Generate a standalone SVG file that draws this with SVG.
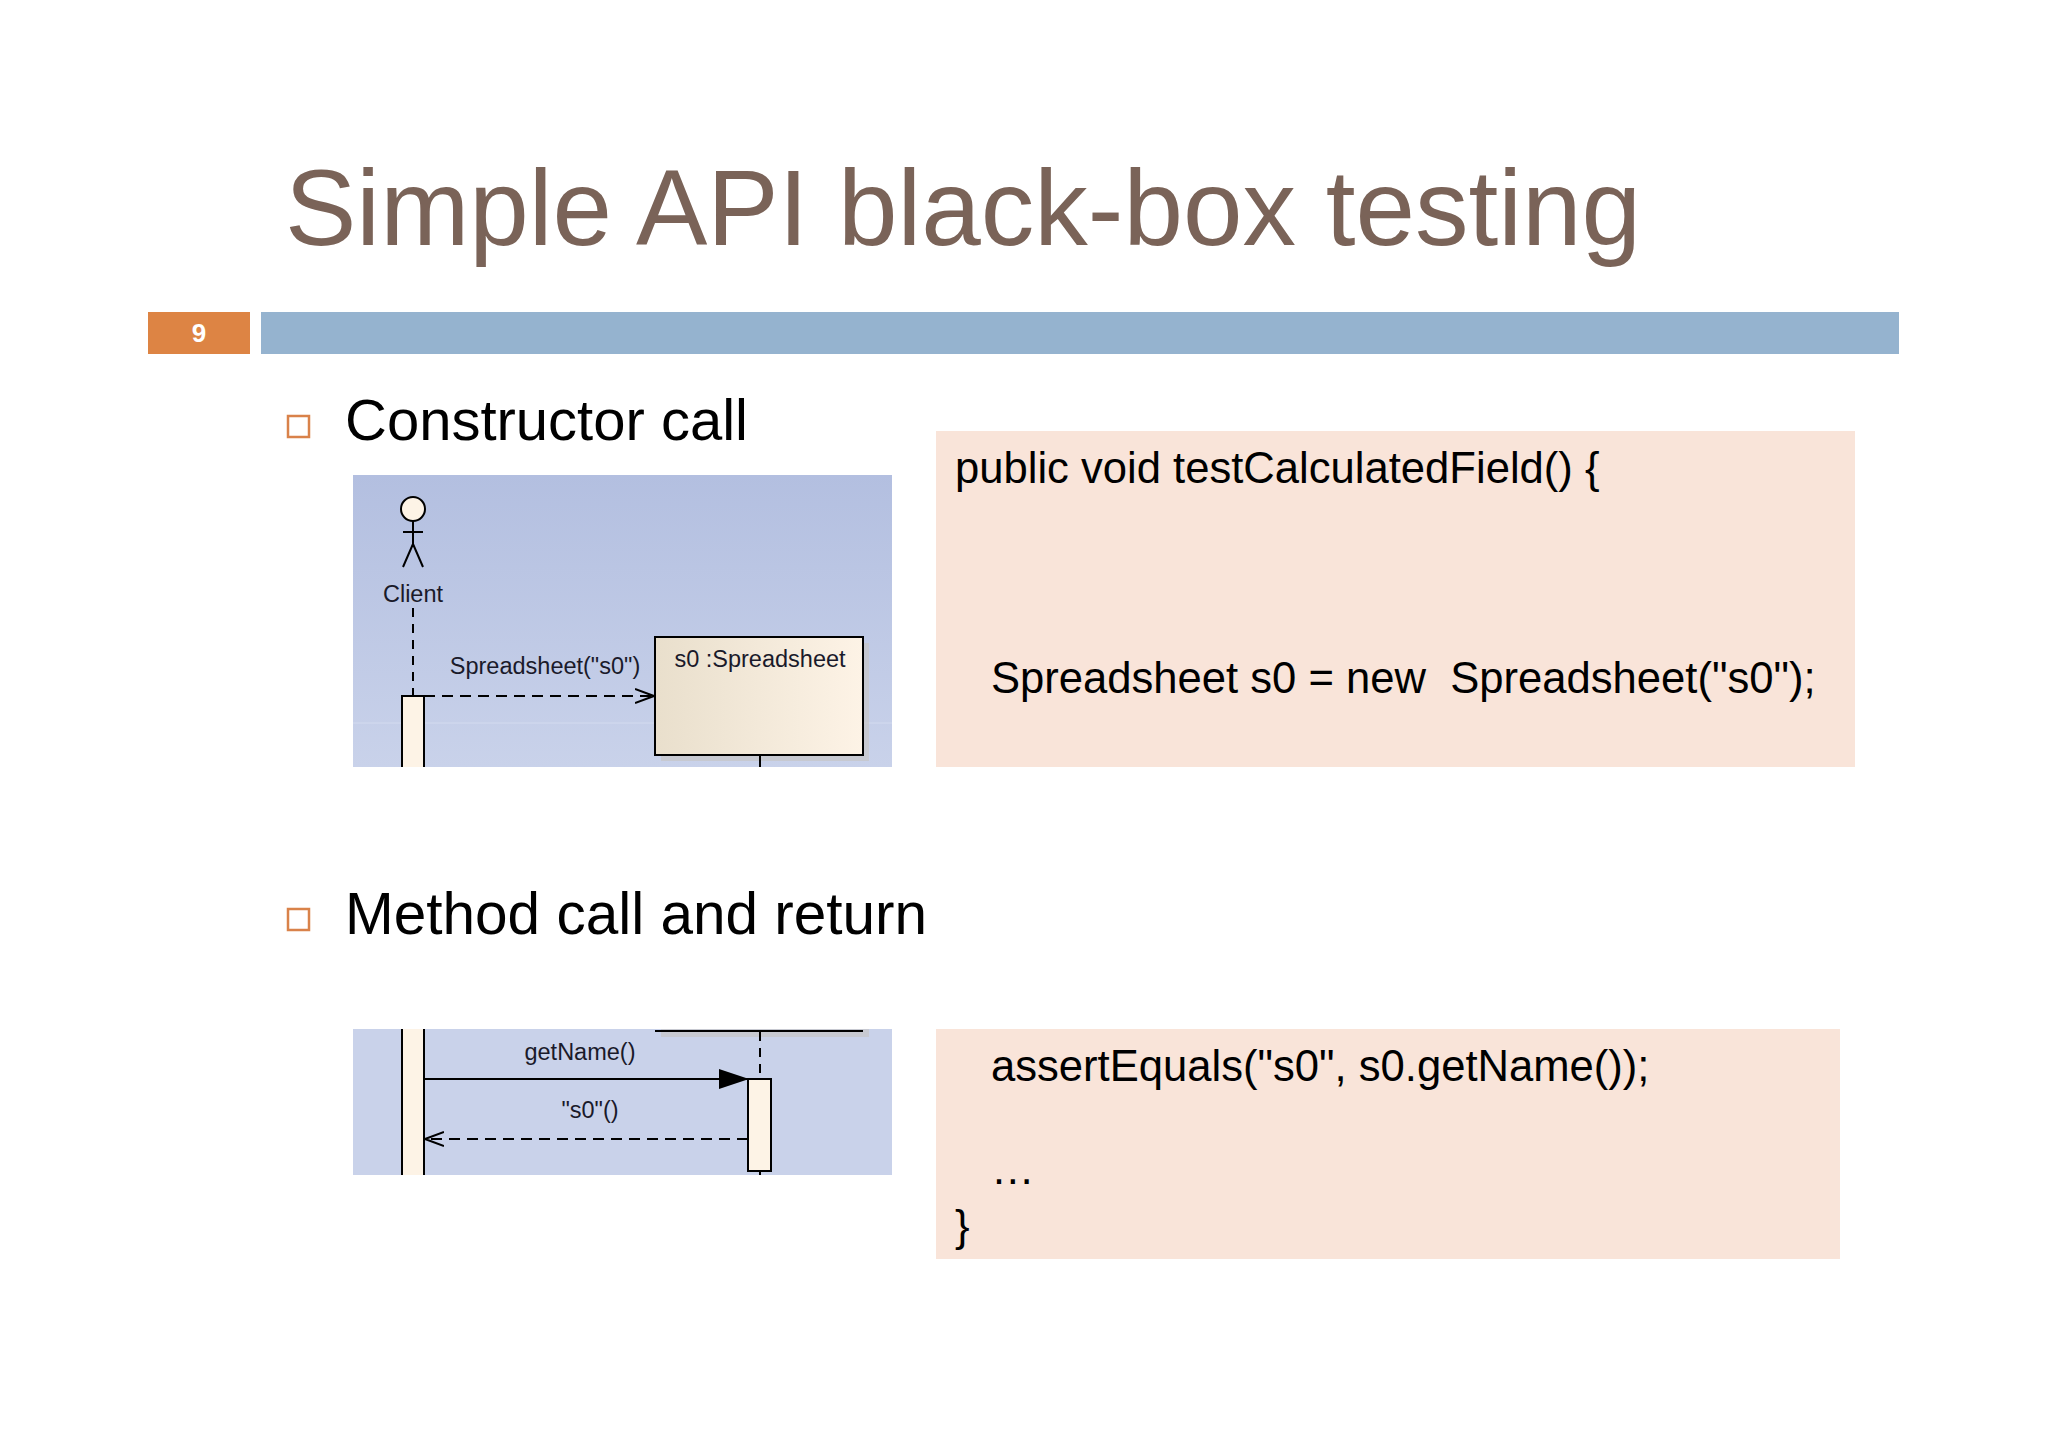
<svg xmlns="http://www.w3.org/2000/svg" width="2048" height="1447" viewBox="0 0 2048 1447">
<defs>
<linearGradient id="panel" x1="0" y1="0" x2="0" y2="1"><stop offset="0" stop-color="#b3bfe0"/><stop offset="1" stop-color="#c9d2ea"/></linearGradient>
<linearGradient id="obj" x1="0" y1="0" x2="1" y2="0"><stop offset="0" stop-color="#e9dfcc"/><stop offset="1" stop-color="#fdf3e6"/></linearGradient>
<marker id="open" viewBox="0 0 20 20" refX="19" refY="10" markerWidth="20" markerHeight="20" markerUnits="userSpaceOnUse" orient="auto"><path d="M0,3 L19,10 L0,17" fill="none" stroke="#000" stroke-width="2"/></marker>
<marker id="fill" viewBox="0 0 30 20" refX="29" refY="10" markerWidth="30" markerHeight="20" markerUnits="userSpaceOnUse" orient="auto"><path d="M0,0 L30,10 L0,20 Z" fill="#000"/></marker>
<clipPath id="c2"><rect x="353" y="1029" width="539" height="146"/></clipPath>
</defs>
<style>
.t{font-family:"Liberation Sans",Arial,sans-serif}
.code{font-family:"Liberation Sans",Arial,sans-serif;font-size:43.6px;fill:#000}
.sm{font-family:"Liberation Sans",Arial,sans-serif;font-size:23.5px;fill:#1a1a2a;text-anchor:middle}
.bul{fill:none;stroke:#d9824a;stroke-width:2.5}
.act{fill:#fdf3e6;stroke:#000;stroke-width:2}
</style>
<rect width="2048" height="1447" fill="#fff"/>
<g id="title"><text class="t" x="285" y="245" font-size="107" fill="#7a6358">Simple API black-box testing</text></g>
<g id="header">
<rect x="148" y="312" width="102" height="42" fill="#dd8444"/>
<text class="t" x="199" y="342" font-size="26" font-weight="bold" fill="#fff" text-anchor="middle">9</text>
<rect x="261" y="312" width="1638" height="42" fill="#95b3cf"/>
</g>
<g id="bullet1"><rect class="bul" x="288" y="416" width="21" height="21"/><text class="t" x="345" y="440" font-size="58">Constructor call</text></g>
<g id="bullet2"><rect class="bul" x="288" y="909" width="21" height="21"/><text class="t" x="345" y="934" font-size="58.5">Method call and return</text></g>
<g id="code1">
<rect x="936" y="431" width="919" height="336" fill="#f9e4d9"/>
<text class="code" x="955" y="483">public void testCalculatedField() {</text>
<text class="code" x="991" y="693" xml:space="preserve">Spreadsheet s0 = new  Spreadsheet("s0");</text>
</g>
<g id="code2">
<rect x="936" y="1029" width="904" height="230" fill="#f9e4d9"/>
<text class="code" x="991" y="1081">assertEquals("s0", s0.getName());</text>
<text class="code" x="991" y="1184">…</text>
<text class="code" x="955" y="1241">}</text>
</g>
<g id="panel1">
<rect x="353" y="475" width="539" height="292" fill="url(#panel)"/>
<line x1="353" y1="723" x2="892" y2="723" stroke="#d3dbef" stroke-width="1"/>
</g>
<g id="client">
<circle cx="413" cy="509" r="12" fill="#fdf3e6" stroke="#000" stroke-width="2"/>
<path d="M413,521 V544 M403,532 H423 M413,544 L403,567 M413,544 L423,567" stroke="#000" stroke-width="2" fill="none"/>
<text class="sm" x="413" y="602">Client</text>
<rect class="act" x="402" y="696" width="22" height="80"/>
<rect x="353" y="767" width="80" height="12" fill="#fff"/>
</g>
<g id="s0box">
<rect x="661" y="643" width="208" height="118" fill="#c6c3c0" opacity="0.6"/>
<rect x="655" y="637" width="208" height="118" fill="url(#obj)" stroke="#000" stroke-width="2"/>
<text class="sm" x="760" y="667">s0 :Spreadsheet</text>
</g>
<g id="panel2">
<rect x="353" y="1029" width="539" height="146" fill="#c9d2ea"/>
<g clip-path="url(#c2)">
<rect x="661" y="1020" width="208" height="17" fill="#c6c3c0" opacity="0.6"/>
<line x1="655" y1="1031" x2="863" y2="1031" stroke="#000" stroke-width="2"/>
<rect class="act" x="402" y="1020" width="22" height="170"/>
</g>
<rect class="act" x="748" y="1079" width="23" height="92"/>
</g>
<g id="connectors" fill="none" stroke="#000" stroke-width="2">
<line x1="413" y1="608" x2="413" y2="696" stroke-dasharray="9,7"/>
<line x1="424" y1="696" x2="654" y2="696" stroke-dasharray="11,7" marker-end="url(#open)"/>
<line x1="760" y1="755" x2="760" y2="767"/>
<line x1="760" y1="1032" x2="760" y2="1079" stroke-dasharray="9,7"/>
<line x1="760" y1="1171" x2="760" y2="1175"/>
<line x1="424" y1="1079" x2="748" y2="1079" marker-end="url(#fill)"/>
<line x1="748" y1="1139" x2="425" y2="1139" stroke-dasharray="11,7" marker-end="url(#open)"/>
</g>
<g id="labels">
<text class="sm" x="545" y="674">Spreadsheet("s0")</text>
<text class="sm" x="580" y="1060">getName()</text>
<text class="sm" x="590" y="1118">"s0"()</text>
</g>
</svg>
